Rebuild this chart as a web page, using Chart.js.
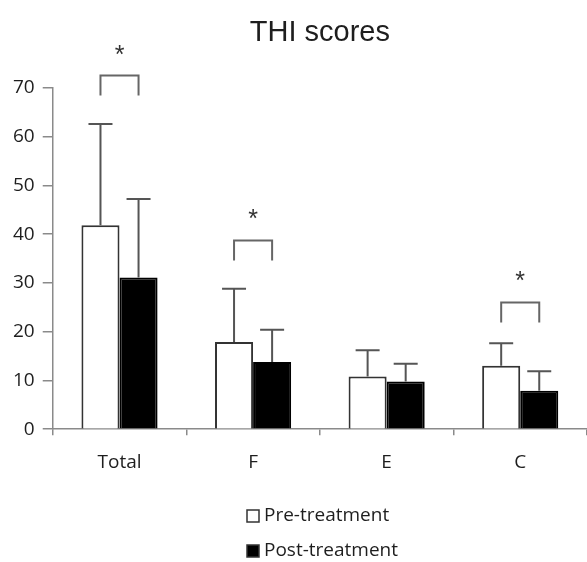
<!DOCTYPE html>
<html>
<head>
<meta charset="utf-8">
<script src="https://cdn.jsdelivr.net/npm/chart.js@4"></script>
<style>
  html, body { margin: 0; padding: 0; background: #fff; }
  #wrap { width: 587px; height: 562px; }
</style>
</head>
<body>
<div id="wrap"><canvas id="thiChart" width="587" height="562"></canvas></div>
<script>
// ── Data ──
const categories = ['Total', 'F', 'E', 'C'];
const preMeans  = [41.8, 17.9, 10.8, 13.0];
const preSD     = [20.8, 10.9, 5.4, 4.6];
const postMeans = [31.1, 13.8, 9.8, 7.9];
const postSD    = [16.1, 6.6, 3.6, 4.0];
// top of the significance bracket per category (null = no bracket)
const sigLevels = [72.5, 38.7, null, 26.0];
const yTicks    = [0, 10, 20, 30, 40, 50, 60, 70];

const axisGray = '#8a8a8a';
const textColor = '#1e1e1e';

Chart.defaults.font.family = "'Open Sans', sans-serif";
Chart.defaults.font.size = 19;
Chart.defaults.color = textColor;

// Upward-only SD whiskers with a cap
const errorBars = {
  id: 'errorBars',
  afterDatasetsDraw(chart) {
    const ctx = chart.ctx;
    const y = chart.scales.y;
    const sds = [preSD, postSD];
    ctx.save();
    ctx.strokeStyle = '#555';
    ctx.lineWidth = 2;
    chart.data.datasets.forEach((ds, i) => {
      chart.getDatasetMeta(i).data.forEach((bar, j) => {
        const top = y.getPixelForValue(ds.data[j] + sds[i][j]);
        ctx.beginPath();
        ctx.moveTo(bar.x, bar.y);
        ctx.lineTo(bar.x, top);
        ctx.moveTo(bar.x - 12, top);
        ctx.lineTo(bar.x + 12, top);
        ctx.stroke();
      });
    });
    ctx.restore();
  }
};

// Significance brackets + asterisks between pre and post bars
const sigBrackets = {
  id: 'sigBrackets',
  afterDatasetsDraw(chart) {
    const ctx = chart.ctx;
    const y = chart.scales.y;
    const pre = chart.getDatasetMeta(0).data;
    const post = chart.getDatasetMeta(1).data;
    ctx.save();
    ctx.strokeStyle = '#666';
    ctx.lineWidth = 2;
    ctx.fillStyle = '#333';
    ctx.font = "25px 'Liberation Sans', sans-serif";
    ctx.textAlign = 'center';
    ctx.textBaseline = 'alphabetic';
    sigLevels.forEach((lvl, j) => {
      if (lvl === null) return;
      const x1 = pre[j].x, x2 = post[j].x;
      const top = y.getPixelForValue(lvl);
      ctx.beginPath();
      ctx.moveTo(x1, top + 20);
      ctx.lineTo(x1, top);
      ctx.lineTo(x2, top);
      ctx.lineTo(x2, top + 20);
      ctx.stroke();
      ctx.fillText('*', (x1 + x2) / 2, top - 13);
    });
    ctx.restore();
  }
};

// Stacked legend under the axis
const stackedLegend = {
  id: 'stackedLegend',
  afterDraw(chart) {
    const ctx = chart.ctx;
    ctx.save();
    ctx.font = "19px 'Open Sans', sans-serif";
    ctx.textBaseline = 'middle';
    ctx.textAlign = 'left';
    chart.data.datasets.forEach((ds, i) => {
      const cy = 516 + i * 35;
      ctx.fillStyle = ds.backgroundColor;
      ctx.fillRect(247, cy - 6, 12, 12);
      ctx.strokeStyle = '#333';
      ctx.lineWidth = 1.5;
      ctx.strokeRect(247, cy - 6, 12, 12);
      ctx.fillStyle = textColor;
      ctx.fillText(ds.label, 264, cy);
    });
    ctx.restore();
  }
};

new Chart(document.getElementById('thiChart').getContext('2d'), {
  type: 'bar',
  data: {
    labels: categories,
    datasets: [
      {
        label: 'Pre-treatment',
        data: preMeans,
        backgroundColor: '#ffffff',
        borderColor: '#333',
        borderWidth: 2,
        categoryPercentage: 0.57,
        barPercentage: 1.0
      },
      {
        label: 'Post-treatment',
        data: postMeans,
        backgroundColor: '#000000',
        borderColor: '#000000',
        borderWidth: 2,
        categoryPercentage: 0.57,
        barPercentage: 1.0
      }
    ]
  },
  options: {
    responsive: false,
    animation: false,
    devicePixelRatio: 1,
    layout: { padding: { left: 5, right: 0, top: 0, bottom: 72 } },
    plugins: {
      legend: { display: false },
      tooltip: { enabled: false },
      title: {
        display: true,
        text: 'THI scores',
        fullSize: false,
        color: textColor,
        font: { family: "'Liberation Sans', sans-serif", size: 29, weight: 'normal' },
        padding: { top: 16, bottom: 37 }
      }
    },
    scales: {
      x: {
        grid: { drawOnChartArea: false, color: axisGray, tickLength: 6, lineWidth: 1.5 },
        border: { color: axisGray, width: 1.5 },
        ticks: { padding: 16, color: textColor }
      },
      y: {
        min: 0,
        max: 70,
        afterBuildTicks: axis => { axis.ticks = yTicks.map(v => ({ value: v })); },
        grid: { drawOnChartArea: false, color: axisGray, tickLength: 10, lineWidth: 1.5 },
        border: { color: axisGray, width: 1.5 },
        ticks: { padding: 8, color: textColor }
      }
    }
  },
  plugins: [errorBars, sigBrackets, stackedLegend]
});
</script>
</body>
</html>
